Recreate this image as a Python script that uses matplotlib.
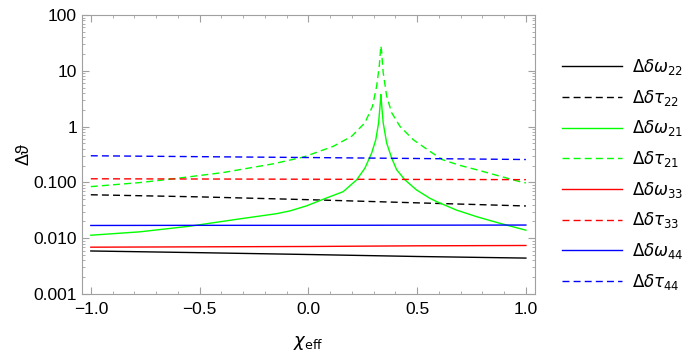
import matplotlib
matplotlib.use("Agg")
import matplotlib.pyplot as plt
from matplotlib.ticker import FixedLocator, FixedFormatter, LogLocator, MultipleLocator, NullFormatter

plt.rcParams['font.family'] = ['Liberation Sans', 'DejaVu Sans']
plt.rcParams['mathtext.fontset'] = 'dejavusans'

# values
chi_flat = [-1.0, -0.5, 0.0, 0.5, 1.0]
dw22 = [0.0059, 0.0055, 0.0051, 0.0047, 0.0044]
dt22 = [0.060, 0.055, 0.049, 0.043, 0.0378]
dw33 = [0.0069, 0.0070, 0.0071, 0.0073, 0.0074]
dt33 = [0.116, 0.115, 0.114, 0.113, 0.112]
dw44 = [0.0169, 0.0170, 0.0170, 0.0171, 0.0172]
dt44 = [0.300, 0.289, 0.279, 0.268, 0.257]

chi_w21 = [-1.0, -0.775, -0.545, -0.315, -0.146, -0.085, -0.008, 0.068, 0.160,
           0.222, 0.260, 0.291, 0.310, 0.323, 0.332, 0.3333, 0.335, 0.344, 0.360,
           0.383, 0.406, 0.444, 0.497, 0.559, 0.591, 0.68, 0.775, 0.88, 1.0]
dw21 = [0.0113, 0.0130, 0.0164, 0.0222, 0.0275, 0.0308, 0.038, 0.0498, 0.0682,
        0.111, 0.180, 0.336, 0.583, 1.17, 3.06, 3.77, 3.06, 1.17, 0.508,
        0.273, 0.168, 0.111, 0.0733, 0.0518, 0.045, 0.032, 0.0242, 0.0185, 0.0139]

chi_t21 = [-1.0, -0.775, -0.637, -0.392, -0.162, -0.024, 0.007, 0.114, 0.199,
           0.260, 0.295, 0.314, 0.326, 0.332, 0.3333, 0.336, 0.344, 0.360, 0.383,
           0.421, 0.482, 0.559, 0.618, 0.70, 0.775, 0.972, 1.0]
dt21 = [0.084, 0.0992, 0.114, 0.150, 0.215, 0.284, 0.313, 0.442, 0.669,
        1.17, 2.32, 5.32, 12.2, 24.0, 28.0, 24.0, 9.3, 3.52, 1.77,
        1.01, 0.583, 0.359, 0.254, 0.20, 0.168, 0.103, 0.098]

labels = [r'$\Delta\delta\omega_{22}$', r'$\Delta\delta\tau_{22}$',
          r'$\Delta\delta\omega_{21}$', r'$\Delta\delta\tau_{21}$',
          r'$\Delta\delta\omega_{33}$', r'$\Delta\delta\tau_{33}$',
          r'$\Delta\delta\omega_{44}$', r'$\Delta\delta\tau_{44}$']

dash = (0, (5, 3))
fig = plt.figure(figsize=(7, 3.57), dpi=100)
ax = fig.add_axes([0.117, 0.1765, 0.647, 0.7815])

ax.plot(chi_flat, dw22, color='black', lw=1.0, label=labels[0])
ax.plot(chi_flat, dt22, color='black', lw=1.0, ls=dash, label=labels[1])
ax.plot(chi_w21, dw21, color=(0, 1, 0), lw=1.0, label=labels[2])
ax.plot(chi_t21, dt21, color=(0, 1, 0), lw=1.0, ls=dash, label=labels[3])
ax.plot(chi_flat, dw33, color=(1, 0, 0), lw=1.0, label=labels[4])
ax.plot(chi_flat, dt33, color=(1, 0, 0), lw=1.0, ls=dash, label=labels[5])
ax.plot(chi_flat, dw44, color=(0, 0, 1), lw=1.0, label=labels[6])
ax.plot(chi_flat, dt44, color=(0, 0, 1), lw=1.0, ls=dash, label=labels[7])

ax.set_yscale('log')
ax.set_ylim(0.001, 100)
ax.set_xlim(-1.041, 1.041)

yt = [0.001, 0.01, 0.1, 1, 10, 100]
ax.yaxis.set_major_locator(FixedLocator(yt))
ax.yaxis.set_major_formatter(FixedFormatter(['0.001', '0.010', '0.100', '1', '10', '100']))
ax.yaxis.set_minor_locator(LogLocator(base=10, subs=range(2, 10)))
ax.yaxis.set_minor_formatter(NullFormatter())
ax.xaxis.set_minor_locator(MultipleLocator(0.1))
ax.set_xticks([-1.0, -0.5, 0.0, 0.5, 1.0])
ax.set_xticklabels(['\u22121.0', '\u22120.5', '0.0', '0.5', '1.0'])

for s in ax.spines.values():
    s.set_color('#a0a0a0')
ax.tick_params(which='both', direction='in', top=True, right=True, color='#a0a0a0',
               labelsize=12.5, labelcolor='black')
ax.tick_params(which='major', length=5)
ax.tick_params(which='minor', length=2.5)
ax.tick_params(axis='x', pad=6)

ax.set_xlabel(r'$\chi_{\rm eff}$', fontsize=13, labelpad=12)
ax.set_ylabel('\u0394\u03d1', fontsize=13, labelpad=1)

fig.legend(loc='upper left', bbox_to_anchor=(0.782, 0.882), frameon=False,
           fontsize=12, handlelength=3.6, labelspacing=0.64, handletextpad=0.6)

fig.savefig('out.png', dpi=100)
